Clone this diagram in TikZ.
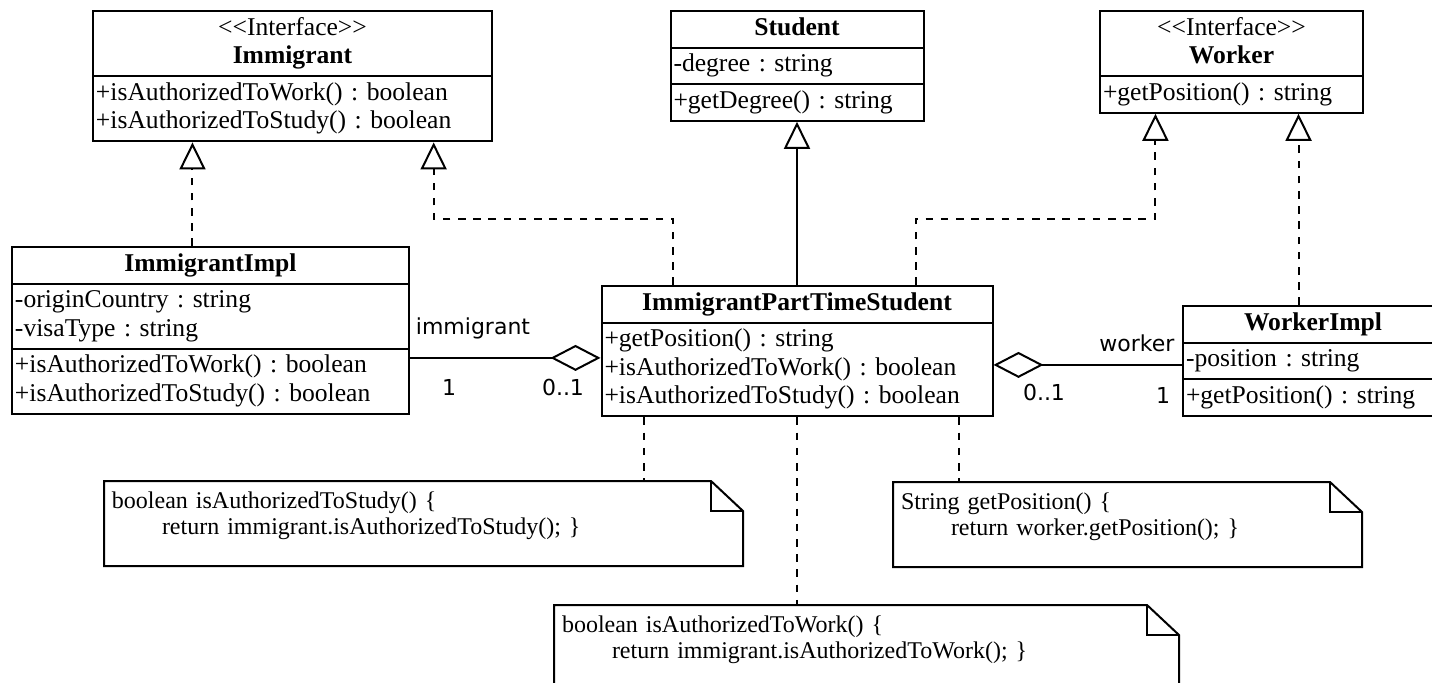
\documentclass[tikz,border=0pt]{standalone}
\usepackage{fontspec}
\setmainfont{Liberation Serif}[Ligatures=TeXOff]
\newfontfamily\lblfont{DejaVu Sans}
\usetikzlibrary{shapes.multipart,arrows.meta,calc}
\frenchspacing

\newcommand\clsfont{\fontsize{12.8}{14.3}\selectfont}
\newcommand\notefont{\fontsize{12}{13}\selectfont}
\newcommand\ctitle[1]{\makebox[\hsize]{\strut#1}}
\newcommand\foldnote[1]{%
  \draw (#1.north west) -- ([xshift=-16pt]#1.north east) -- ([yshift=-15pt]#1.north east) -- (#1.south east) -- (#1.south west) -- cycle;
  \draw ([xshift=-16pt]#1.north east) |- ([yshift=-15pt]#1.north east);}

\tikzstyle{umlclass}=[draw,rectangle split,rectangle split parts=2,anchor=north,inner xsep=1.5pt,inner ysep=1.5pt,align=left,font=\clsfont]
\tikzstyle{real}=[dash pattern=on 3.8pt off 3.8pt,-{Triangle[open,length=13.5pt,width=13pt]}]
\tikzstyle{inh}=[-{Triangle[open,length=13.5pt,width=13pt]}]
\tikzstyle{aggr}=[-{Diamond[open,length=25pt,width=13pt]}]
\tikzstyle{anc}=[dash pattern=on 3.8pt off 3.8pt]
\tikzstyle{mult}=[font=\lblfont\fontsize{11}{13}\selectfont,inner sep=0pt]
\tikzstyle{note}=[anchor=north west,inner xsep=3.5pt,inner ysep=4pt,align=left,font=\notefont]

\begin{document}
\begin{tikzpicture}[x=0.5pt,y=-0.5pt,line width=1pt]
  \useasboundingbox (0,0) rectangle (1432,682);
  \clip (0,0) rectangle (1432,682);

  % interfaces and classes
  \node[umlclass,text width=196.5pt] (imm) at (292.5,10)
    {\ctitle{<<Interface>>}\\\ctitle{\textbf{Immigrant}}
     \nodepart{two}\strut+isAuthorizedToWork() : boolean\\\strut+isAuthorizedToStudy() : boolean};
  \node[umlclass,rectangle split parts=3,text width=123.5pt] (stu) at (797,10)
    {\ctitle{\textbf{Student}}
     \nodepart{two}\strut-degree : string
     \nodepart{three}\strut+getDegree() : string};
  \node[umlclass,text width=128.5pt] (wrk) at (1231.5,10)
    {\ctitle{<<Interface>>}\\\ctitle{\textbf{Worker}}
     \nodepart{two}\strut+getPosition() : string};

  \node[umlclass,rectangle split parts=3,text width=195.5pt] (impl) at (210.5,246)
    {\ctitle{\textbf{ImmigrantImpl}}
     \nodepart{two}\strut-originCountry : string\\\strut-visaType : string
     \nodepart{three}\strut+isAuthorizedToWork() : boolean\\\strut+isAuthorizedToStudy() : boolean};
  \node[umlclass,text width=192.5pt] (pts) at (797,285)
    {\ctitle{\textbf{ImmigrantPartTimeStudent}}
     \nodepart{two}\strut+getPosition() : string\\\strut+isAuthorizedToWork() : boolean\\\strut+isAuthorizedToStudy() : boolean};
  \node[umlclass,rectangle split parts=3,text width=127pt] (wimpl) at (1313,305)
    {\ctitle{\textbf{WorkerImpl}}
     \nodepart{two}\strut-position : string
     \nodepart{three}\strut+getPosition() : string};

  % notes
  \node[note,text width=311.5pt] (nstudy) at (104,481)
    {\strut boolean isAuthorizedToStudy() \{\\\hspace*{25pt}return immigrant.isAuthorizedToStudy(); \}\rule[-11.5pt]{0pt}{11.5pt}};
  \node[note,text width=226.5pt] (npos) at (893,482)
    {\strut String getPosition() \{\\\hspace*{25pt}return worker.getPosition(); \}\rule[-11.5pt]{0pt}{11.5pt}};
  \node[note,text width=304.5pt] (nwork) at (554,605)
    {\strut boolean isAuthorizedToWork() \{\\\hspace*{25pt}return immigrant.isAuthorizedToWork(); \}\rule[-11.5pt]{0pt}{11.5pt}};
  \foldnote{nstudy}
  \foldnote{npos}
  \foldnote{nwork}

  \coordinate (immA) at ($(imm.south west)!0.2506!(imm.south east)$);
  \coordinate (immB) at ($(imm.south west)!0.852!(imm.south east)$);
  \coordinate (wrkA) at ($(wrk.south west)!0.213!(wrk.south east)$);
  \coordinate (wrkB) at ($(wrk.south west)!0.753!(wrk.south east)$);
  \coordinate (ptsA) at ($(pts.north west)!0.185!(pts.north east)$);
  \coordinate (ptsB) at ($(pts.north west)!0.802!(pts.north east)$);
  \coordinate (ptsC) at ($(pts.south west)!0.111!(pts.south east)$);
  \coordinate (ptsD) at ($(pts.south west)!0.912!(pts.south east)$);
  \coordinate (ia) at ([yshift=-3.35pt]pts.west);
  \coordinate (wa) at ([yshift=-6.85pt]pts.east);

  % realizations and generalization
  \draw[real] (impl.north -| immA) -- (immA);
  \draw[real] (ptsA) -- ++(0,-66) -| (immB);
  \draw[real] (ptsB) -- ++(0,-66) -| (wrkA);
  \draw[real] (wimpl.north -| wrkB) -- (wrkB);
  \draw[inh] (pts.north) -- (stu.south);

  % aggregations
  \draw[aggr] (impl.east |- ia) -- (ia);
  \draw[aggr] (wimpl.west |- wa) -- (wa);
  \node[mult] (rolei) at (473,328) {immigrant};
  \node[mult] (mi1) at (449,387) {1};
  \node[mult] (mi2) at (563,387) {0..1};
  \node[mult] (rolew) at (1137,343) {worker};
  \node[mult] (mw2) at (1044,392) {0..1};
  \node[mult] (mw1) at (1163,395) {1};

  % note anchors
  \draw[anc] (ptsC) -- (ptsC |- nstudy.north);
  \draw[anc] (pts.south) -- (pts.south |- nwork.north);
  \draw[anc] (ptsD) -- (ptsD |- npos.north);
\end{tikzpicture}
\end{document}
